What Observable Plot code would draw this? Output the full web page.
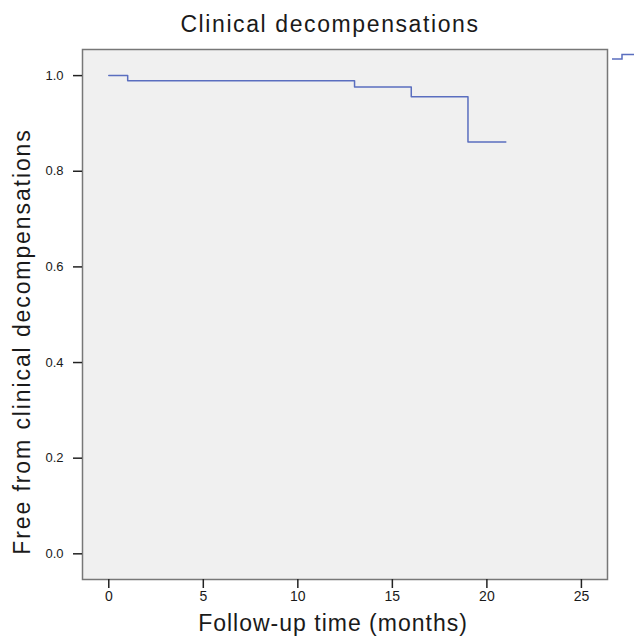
<!DOCTYPE html>
<html>
<head>
<meta charset="utf-8">
<script src="https://cdn.jsdelivr.net/npm/d3@7"></script>
<script src="https://cdn.jsdelivr.net/npm/@observablehq/plot@0.6"></script>
<style>
  html, body { margin: 0; padding: 0; background: #ffffff; }
  #wrap { position: relative; width: 635px; height: 637px; font-family: "Liberation Sans", Arial, Helvetica, sans-serif; }
  #title { position: absolute; left: 25px; width: 610px; top: 13px; text-align: center; font-size: 23px; line-height: 23px; letter-spacing: 1.6px; color: #1a1a1a; }
  #chart { position: absolute; left: 0; top: 44px; }
  #legend { position: absolute; left: 609px; top: 50px; }
  g[aria-label="x-axis tick label"] { font-size: 14px; }
  g[aria-label="y-axis tick label"] { font-size: 13px; }
</style>
</head>
<body>
<div id="wrap">
  <div id="title">Clinical decompensations</div>
  <div id="chart"></div>
  <svg id="legend" width="26" height="14"><polyline id="legline" fill="none" stroke-width="1.5"></polyline></svg>
</div>
<script>
// Kaplan-Meier step data
const months = [0, 1, 13, 16, 19, 21];
const freeFraction = [1.0, 0.989, 0.976, 0.956, 0.861, 0.861];
const xTicks = [0, 5, 10, 15, 20, 25];
const yTicks = [0.0, 0.2, 0.4, 0.6, 0.8, 1.0];
const xLabel = "Follow-up time (months)";
const yLabel = "Free from clinical decompensations";
const lineColor = "#5a6ebf";

const data = months.map((m, i) => ({month: m, value: freeFraction[i]}));

const plot = Plot.plot({
  width: 635,
  height: 593,
  marginTop: 5,
  marginBottom: 58,
  marginLeft: 82,
  marginRight: 28,
  style: {fontFamily: "'Liberation Sans', Arial, Helvetica, sans-serif", background: "transparent", color: "#1a1a1a"},
  x: {domain: [-1.39, 26.38]},
  y: {domain: [-0.0537, 1.0546]},
  marks: [
    Plot.frame({fill: "#f0f0f0", stroke: "#777", strokeWidth: 1.5}),
    Plot.line(data, {x: "month", y: "value", curve: "step-after", stroke: lineColor, strokeWidth: 1.5}),
    Plot.axisX({ticks: xTicks, tickFormat: d => String(d), tickSize: 9, tickPadding: 3, fontSize: 14, label: null, line: true, stroke: "#222", strokeWidth: 1.5}),
    Plot.axisY({ticks: yTicks, tickFormat: d => d.toFixed(1), tickSize: 9, tickPadding: 10, fontSize: 13, label: null, line: true, stroke: "#222", strokeWidth: 1.5}),
    Plot.text([xLabel], {frameAnchor: "bottom", textAnchor: "middle", dx: -12, dy: 44, lineAnchor: "middle", fontSize: 23, fill: "#1a1a1a"}),
    Plot.text([yLabel], {frameAnchor: "left", textAnchor: "middle", dx: -60, dy: 27, rotate: -90, lineAnchor: "middle", fontSize: 23, fill: "#1a1a1a"})
  ]
});
document.getElementById("chart").appendChild(plot);

// letter spacing for axis titles (font in reference is wider)
d3.select(plot).selectAll("text").each(function() {
  const t = this.textContent;
  if (t === xLabel) d3.select(this).style("letter-spacing", "1px");
  if (t === yLabel) d3.select(this).style("letter-spacing", "1.9px");
});

// small legend glyph at the top right (cropped in the reference)
d3.select("#legline").attr("stroke", lineColor).attr("points", "3,9 13,9 13,4.5 25,4.5");
</script>
</body>
</html>
